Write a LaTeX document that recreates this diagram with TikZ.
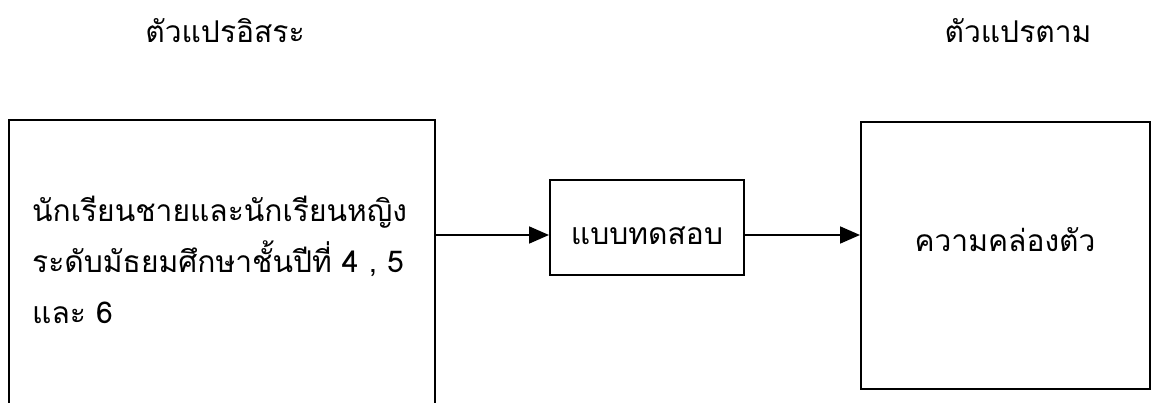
\documentclass[tikz,border=0pt]{standalone}
\usepackage{fontspec}
\newfontfamily\thaifont[Script=Thai]{Loma}
\usetikzlibrary{arrows.meta}
\begin{document}
\begin{tikzpicture}[x=1pt,y=-1pt,
  box/.style={draw=black,line width=2pt,inner sep=0pt,anchor=north west},
  lbl/.style={font=\thaifont\fontsize{30}{51}\selectfont,inner sep=0pt},
  conn/.style={line width=1.8pt,-{Triangle[length=20pt,width=17pt]}}]
\useasboundingbox (0,0) rectangle (1151,403);
\clip (0,0) rectangle (1151,403);
\fill[white] (0,0) rectangle (1151,403);
\node[lbl] (hin) at (225,31) {ตัวแปรอิสระ};
\node[lbl] (hdep) at (1018,31) {ตัวแปรตาม};
\node[box,minimum width=426pt,minimum height=320pt] (left) at (8,119) {};
\node[box,minimum width=194pt,minimum height=95pt] (mid) at (549,179) {};
\node[box,minimum width=289pt,minimum height=267pt] (right) at (860,121) {};
\coordinate (ay) at (0,235);
\node[lbl,anchor=north west,align=left] (ltext) at (32,196) {นักเรียนชายและนักเรียนหญิง\\ระดับมัธยมศึกษาชั้นปีที่ 4 , 5\\และ 6};
\node[lbl] (mtext) at (647,236) {แบบทดสอบ};
\node[lbl] (rtext) at (1005,240) {ความคล่องตัว};
\draw[conn] (left.east |- ay) -- (mid.west |- ay);
\draw[conn] (mid.east |- ay) -- (right.west |- ay);
\end{tikzpicture}
\end{document}
